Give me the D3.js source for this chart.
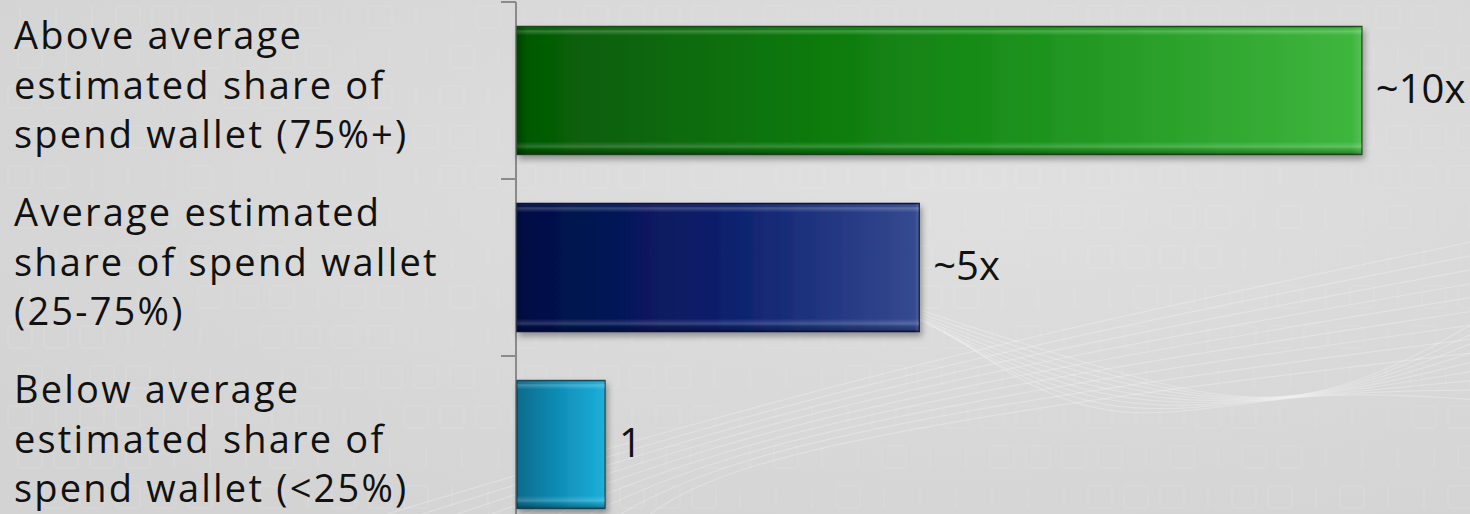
<!DOCTYPE html>
<html>
<head>
<meta charset="utf-8">
<script src="https://cdn.jsdelivr.net/npm/d3@7"></script>
<style>
  html, body { margin: 0; padding: 0; overflow: hidden; background: #d9d9d9; }
  svg { display: block; }
</style>
</head>
<body>
<svg id="chart" width="1470" height="514"></svg>
<script>
// Categories (each label split into its display lines)
const categories = ["above", "average", "below"];
const categoryLines = [
  ["Above average", "estimated share of", "spend wallet (75%+)"],
  ["Average estimated", "share of spend wallet", "(25-75%)"],
  ["Below average", "estimated share of", "spend wallet (<25%)"]
];
// Relative spend multiple for each wallet-share group
const values = [9.6, 4.57, 1];
const valueLabels = ["~10x", "~5x", "1"];
// Bar gradient stops: [left, middle, right]
const barColors = [
  ["#055805", "#148814", "#3fb73f"],
  ["#020e44", "#0a1f6b", "#354a91"],
  ["#0a6b8c", "#108fb8", "#1cb0da"]
];
const barStroke = ["#1f4f1f", "#0d173f", "#1c4f62"];

const W = 1470, H = 514;
const FONT = "'Open Sans', Lato, sans-serif";
const svg = d3.select("#chart");
const defs = svg.append("defs");

// ---- background ----
const bg = defs.append("radialGradient").attr("id", "bg")
  .attr("cx", "65%").attr("cy", "35%").attr("r", "80%");
bg.append("stop").attr("offset", "0%").attr("stop-color", "#e0e0e0");
bg.append("stop").attr("offset", "100%").attr("stop-color", "#d3d3d3");
svg.append("rect").attr("width", W).attr("height", H).attr("fill", "url(#bg)");

// faint binary pattern
const bin = svg.append("g").attr("fill", "none").attr("stroke", "#ffffff")
  .attr("stroke-opacity", 0.07).attr("stroke-width", 2);
const bits = "1001011000110100101110010011010001101100101001110100110";
for (let r = 0; r < 13; r++) {
  for (let c = 0; c < 42; c++) {
    const b = bits[(r * 7 + c * 3) % bits.length];
    const x0 = 8 + c * 36 + (r % 2) * 10, y0 = 6 + r * 40;
    if (b === "0") bin.append("rect").attr("x", x0).attr("y", y0).attr("width", 24).attr("height", 22).attr("rx", 3);
    else bin.append("line").attr("x1", x0 + 12).attr("x2", x0 + 12).attr("y1", y0).attr("y2", y0 + 22);
  }
}

// faint sweeping lines
const sweep = svg.append("g").attr("fill", "none").attr("stroke", "#ffffff")
  .attr("stroke-opacity", 0.25).attr("stroke-width", 1.2);
const curve = d3.line().curve(d3.curveBasis);
for (let i = 0; i < 9; i++) {
  sweep.append("path").attr("d", curve([
    [860 + i * 12, 290 + i * 6], [1100, 370 + i * 8], [1300, 420 - i * 4], [1480, 320 + i * 10]
  ]));
  sweep.append("path").attr("d", curve([
    [300 + i * 40, 540], [700, 420 + i * 6], [1050, 330 + i * 9], [1480, 240 + i * 14]
  ]));
}

// ---- scales ----
const y = d3.scaleBand().domain(categories).range([2, 533]).paddingInner(0).paddingOuter(0);
const x = d3.scaleLinear().domain([0, 10]).range([517, 1397]);
const barH = y.bandwidth() * 0.723;
const barOff = (y.bandwidth() - barH) / 2;

// gradients per bar
barColors.forEach((c, i) => {
  const g = defs.append("linearGradient").attr("id", "bar" + i)
    .attr("x1", "0%").attr("x2", "100%").attr("y1", "0%").attr("y2", "0%");
  g.append("stop").attr("offset", "0%").attr("stop-color", c[0]);
  g.append("stop").attr("offset", "50%").attr("stop-color", c[1]);
  g.append("stop").attr("offset", "100%").attr("stop-color", c[2]);
});
// bevel overlay: light rim near top and bottom edges, darker edges
const bev = defs.append("linearGradient").attr("id", "bevel")
  .attr("x1", "0%").attr("x2", "0%").attr("y1", "0%").attr("y2", "100%");
[[0, "#000", 0.25], [0.02, "#fff", 0.0], [0.035, "#fff", 0.22], [0.07, "#fff", 0.0],
 [0.9, "#fff", 0.0], [0.94, "#fff", 0.18], [0.965, "#000", 0.1], [1, "#000", 0.35]]
  .forEach(s => bev.append("stop").attr("offset", s[0]).attr("stop-color", s[1]).attr("stop-opacity", s[2]));
const bevX = defs.append("linearGradient").attr("id", "bevelX")
  .attr("x1", "0%").attr("x2", "100%").attr("y1", "0%").attr("y2", "0%");
[[0, "#000", 0.25], [0.012, "#000", 0.0], [0.988, "#fff", 0.0], [1, "#fff", 0.12]]
  .forEach(s => bevX.append("stop").attr("offset", s[0]).attr("stop-color", s[1]).attr("stop-opacity", s[2]));

const shadow = defs.append("filter").attr("id", "shadow")
  .attr("x", "-5%").attr("y", "-10%").attr("width", "115%").attr("height", "130%");
shadow.append("feDropShadow").attr("dx", 2).attr("dy", 4).attr("stdDeviation", 3)
  .attr("flood-color", "#000").attr("flood-opacity", 0.35);

// ---- axis ----
const axis = svg.append("g").attr("stroke", "#8a8a8a").attr("stroke-width", 2);
axis.append("line").attr("x1", 516).attr("x2", 516).attr("y1", y.range()[0]).attr("y2", y.range()[1]);
const tickYs = categories.map(c => y(c)).concat([y.range()[1]]);
axis.selectAll(".tick").data(tickYs).join("line")
  .attr("x1", 501).attr("x2", 516).attr("y1", d => d).attr("y2", d => d);

// ---- bars ----
const bars = svg.append("g").selectAll("g").data(categories).join("g");
bars.append("rect")
  .attr("x", x(0)).attr("y", c => y(c) + barOff)
  .attr("width", (c, i) => x(values[i]) - x(0)).attr("height", barH)
  .attr("fill", (c, i) => `url(#bar${i})`)
  .attr("stroke", (c, i) => barStroke[i]).attr("stroke-width", 1.5)
  .attr("filter", "url(#shadow)");
bars.append("rect")
  .attr("x", x(0)).attr("y", c => y(c) + barOff)
  .attr("width", (c, i) => x(values[i]) - x(0)).attr("height", barH)
  .attr("fill", "url(#bevel)");
bars.append("rect")
  .attr("x", x(0)).attr("y", c => y(c) + barOff)
  .attr("width", (c, i) => x(values[i]) - x(0)).attr("height", barH)
  .attr("fill", "url(#bevelX)");

// ---- value labels ----
svg.append("g").selectAll("text").data(categories).join("text")
  .attr("x", (c, i) => x(values[i]) + 14)
  .attr("y", c => y(c) + y.bandwidth() / 2 + 12)
  .attr("font-family", FONT)
  .attr("font-size", 40).attr("fill", "#111")
  .text((c, i) => valueLabels[i]);

// ---- category labels ----
const lineH = 49.5, minTop = 43;
const lab = svg.append("g").attr("font-family", FONT)
  .attr("font-size", 38).attr("letter-spacing", "2.2px").attr("fill", "#111");
categories.forEach((c, i) => {
  const mid = y(c) + y.bandwidth() / 2 + 8;
  const first = Math.max(minTop, mid - lineH);
  const t = lab.append("text").attr("x", 14);
  categoryLines[i].forEach((s, k) => {
    t.append("tspan").attr("x", 14).attr("y", first + k * lineH).text(s);
  });
});
</script>
</body>
</html>
